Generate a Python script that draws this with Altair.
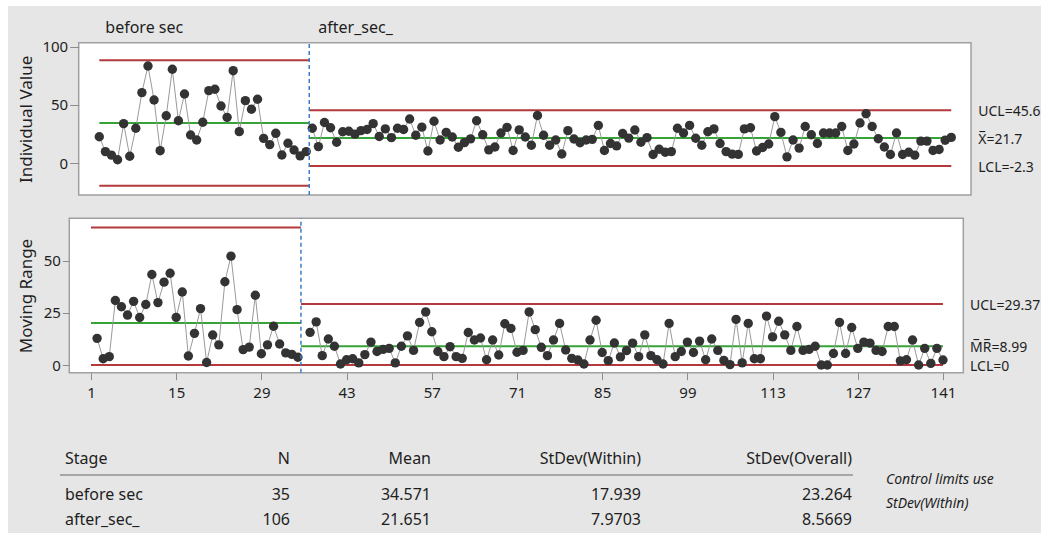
import altair as alt
import pandas as pd

# ---- data -------------------------------------------------------------
stages = ["before sec", "after_sec_"]

# individual observations in run order, one list per stage
before_sec = [22.8, 10, 7, 3, 34, 6, 30, 60.6, 83.4, 54.3,
              10.8, 40.8, 80.6, 36.5, 59.4, 24.3, 20, 35.2, 62.3, 63.5,
              49.1, 39.4, 79.4, 27.1, 53.7, 46.3, 54.9, 21.4, 16, 25.7,
              7.1, 17.2, 11.4, 6.3, 10]
after_sec = [30, 14.3, 35, 30.5, 18, 27, 27.5, 25, 28, 29,
             34, 23, 29.5, 22, 30, 29, 38, 24, 31, 10.5,
             36, 20, 26.5, 22.5, 13.7, 17.7, 20.9, 36.5, 24.5, 11.5,
             14, 26, 30.8, 11, 28.6, 22.5, 15.5, 41, 24, 15.5,
             20, 8, 28, 20.8, 17.6, 20, 20.5, 32.5, 11, 17,
             14.9, 25.5, 21.6, 28.5, 18, 22, 7.5, 12, 9.5, 10,
             30, 26, 32.5, 21.5, 15.5, 27, 29.5, 17, 10, 7.8,
             7.6, 29.5, 30.5, 10.5, 13.5, 16.5, 40, 26.5, 5.5, 20,
             13, 31.5, 24.5, 17, 26, 26, 26, 31.5, 11, 16.5,
             34.5, 42.5, 31.5, 21, 14, 7.5, 26, 7.5, 9.5, 7,
             19, 19, 11, 11.8, 19.8, 22.2]

# stage summary statistics
stage_n = [35, 106]
stage_mean = [34.571, 21.651]
stage_sd_within = [17.939, 7.9703]
stage_sd_overall = [23.264, 8.5669]

ticks_x = [1, 15, 29, 43, 57, 71, 85, 99, 113, 127, 141]
ticks_i = [0, 50, 100]
ticks_mr = [0, 25, 50]

table_headers = ["Stage", "N", "Mean", "StDev(Within)", "StDev(Overall)"]
note_lines = ["Control limits use", "StDev(Within)"]

# control chart constants for moving ranges of span 2
D2 = 1.128
D4 = 3.267

# ---- canvas geometry ---------------------------------------------------
W, H = 1041, 533
I_BOX = dict(left=78.7, right=971.0, top=42.7, bottom=195.0)
MR_BOX = dict(left=69.3, right=963.3, top=218.3, bottom=372.7)
I_XDOM = [-2.385, 144.24]
I_YDOM = [-27.2, 103.4]
MR_XDOM = [-2.566, 144.34]
MR_YDOM = [-3.7, 70.5]

FONT = "Noto Sans"
INK = "#1e1e1e"
FRAME = "#a0a0a0"
TICK = "#8c8c8c"
RED = "#b3393c"
GREEN = "#36a336"
BLUE = "#3a7ccc"
DOT = "#333333"
LINK = "#9a9a9a"
BG = "#e6e6e6"

# ---- tables ------------------------------------------------------------
values = before_sec + after_sec
obs = pd.DataFrame({
    "idx": list(range(1, len(values) + 1)),
    "value": values,
    "stage": [stages[0]] * len(before_sec) + [stages[1]] * len(after_sec),
})
obs["mr"] = obs.groupby("stage", sort=False)["value"].diff().abs()
mrs = obs.dropna(subset=["mr"])

split = len(before_sec) + 0.5
last = len(values)
lim = pd.DataFrame({
    "stage": stages,
    "first": [1, len(before_sec) + 1],
    "start": [1, split],
    "end": [split, last],
    "cl": stage_mean,
    "ucl": [m + 3 * s for m, s in zip(stage_mean, stage_sd_within)],
    "lcl": [m - 3 * s for m, s in zip(stage_mean, stage_sd_within)],
    "mr_cl": [D2 * s for s in stage_sd_within],
    "mr_ucl": [D4 * D2 * s for s in stage_sd_within],
    "mr_lcl": [0.0, 0.0],
})
i_lims = lim.melt(id_vars=["start", "end"], value_vars=["ucl", "lcl"], value_name="y")
mr_lims = lim.melt(id_vars=["start", "end"], value_vars=["mr_ucl", "mr_lcl"], value_name="y")

cur = lim.iloc[-1]
i_labels = pd.DataFrame({
    "x": [last] * 3,
    "y": [cur["ucl"], cur["cl"], cur["lcl"]],
    "t": [f"UCL={cur['ucl']:.1f}", f"X\u0305={cur['cl']:.1f}", f"LCL={cur['lcl']:.1f}"],
})
mr_labels = pd.DataFrame({
    "x": [last] * 3,
    "y": [cur["mr_ucl"], cur["mr_cl"], cur["mr_lcl"]],
    "t": [f"UCL={cur['mr_ucl']:.2f}", f"M\u0305R\u0305={cur['mr_cl']:.2f}", f"LCL={cur['mr_lcl']:.0f}"],
})

# ---- scales and axes ---------------------------------------------------
xs_i = alt.Scale(domain=I_XDOM, range=[I_BOX["left"], I_BOX["right"]], nice=False, zero=False)
ys_i = alt.Scale(domain=I_YDOM, range=[I_BOX["bottom"], I_BOX["top"]], nice=False, zero=False)
xs_m = alt.Scale(domain=MR_XDOM, range=[MR_BOX["left"], MR_BOX["right"]], nice=False, zero=False)
ys_m = alt.Scale(domain=MR_YDOM, range=[MR_BOX["bottom"], MR_BOX["top"]], nice=False, zero=False)

axis_style = dict(domain=False, grid=False, tickColor=TICK, tickWidth=1, zindex=2,
                  labelFont=FONT, labelFontSize=15, labelColor=INK, labelFlush=False,
                  labelOverlap=False, titleFont=FONT, titleFontSize=17,
                  titleFontWeight="normal", titleColor=INK)

ax_i_y = alt.Axis(orient="left", offset=-I_BOX["left"], values=ticks_i, title="Individual Value",
                  tickSize=9, labelPadding=2, titlePadding=6, **axis_style)
ax_m_y = alt.Axis(orient="left", offset=-MR_BOX["left"], values=ticks_mr, title="Moving Range",
                  tickSize=7, labelPadding=2, titlePadding=8, **axis_style)
ax_m_x = alt.Axis(orient="bottom", offset=MR_BOX["bottom"] - H, values=ticks_x, title=None,
                  tickSize=7, labelPadding=6, **axis_style)


def panel(df_obs, ycol, df_lims, lims_cl, labels, xs, ys, ax_x, ax_y, xdom, ydom, stage_text):
    def X(f):
        return alt.X(f, scale=xs, axis=ax_x)

    def Y(f):
        return alt.Y(f, scale=ys, axis=ax_y)

    box = pd.DataFrame({"x0": [xdom[0]], "x1": [xdom[1]], "y0": [ydom[0]], "y1": [ydom[1]]})
    frame = alt.Chart(box).mark_rect(fill="white", stroke=FRAME, strokeWidth=1.5).encode(
        x=X("x0:Q"), x2="x1:Q", y=Y("y0:Q"), y2="y1:Q")
    centre = alt.Chart(lim).mark_rule(color=GREEN, strokeWidth=2).encode(
        x=X("start:Q"), x2="end:Q", y=Y(f"{lims_cl}:Q"))
    limits = alt.Chart(df_lims).mark_rule(color=RED, strokeWidth=2).encode(
        x=X("start:Q"), x2="end:Q", y=Y("y:Q"))
    link = alt.Chart(df_obs).mark_line(color=LINK, strokeWidth=1).encode(
        x=X("idx:Q"), y=Y(f"{ycol}:Q"), detail="stage:N", order="idx:Q")
    dots = alt.Chart(df_obs).mark_circle(size=88, color=DOT, opacity=1).encode(
        x=X("idx:Q"), y=Y(f"{ycol}:Q"))
    sp = pd.DataFrame({"s": [split], "y0": [ydom[0]], "y1": [ydom[1]]})
    divider = alt.Chart(sp).mark_rule(color=BLUE, strokeWidth=1.5, strokeDash=[4, 3]).encode(
        x=X("s:Q"), y=Y("y0:Q"), y2="y1:Q")
    right = alt.Chart(labels).mark_text(align="left", baseline="middle", dx=27, dy=2,
                                        font=FONT, fontSize=14, color=INK).encode(
        x=X("x:Q"), y=Y("y:Q"), text="t:N")
    layers = [frame, centre, limits, link, dots, divider, right]
    if stage_text:
        names = alt.Chart(lim).mark_text(align="left", baseline="middle", dx=6,
                                         font=FONT, fontSize=16, color=INK).encode(
            x=X("first:Q"), y=alt.value(28), text="stage:N")
        layers.append(names)
    return alt.layer(*layers)


i_panel = panel(obs, "value", i_lims, "cl", i_labels, xs_i, ys_i, None, ax_i_y,
                I_XDOM, I_YDOM, True)
mr_panel = panel(mrs, "mr", mr_lims, "mr_cl", mr_labels, xs_m, ys_m, ax_m_x, ax_m_y,
                 MR_XDOM, MR_YDOM, False)

# ---- summary table -----------------------------------------------------
col_anchor = [(65, "left"), (290, "right"), (431, "right"), (641, "right"), (852, "right")]
row_y = [459, 495, 520]
fmt = lambda v: f"{v:.5g}"
columns = [
    [table_headers[0]] + stages,
    [table_headers[1]] + [str(n) for n in stage_n],
    [table_headers[2]] + [fmt(v) for v in stage_mean],
    [table_headers[3]] + [fmt(v) for v in stage_sd_within],
    [table_headers[4]] + [fmt(v) for v in stage_sd_overall],
]
table_layers = []
for (xpos, al), cells in zip(col_anchor, columns):
    for ypos, cell in zip(row_y, cells):
        table_layers.append(
            alt.Chart(pd.DataFrame({"t": [cell]})).mark_text(
                align=al, baseline="middle", font=FONT, fontSize=16, color=INK
            ).encode(x=alt.value(xpos), y=alt.value(ypos), text="t:N")
        )
table_layers.append(
    alt.Chart(pd.DataFrame({"t": ["rule"]})).mark_rule(color="#a6a6a6", strokeWidth=2).encode(
        x=alt.value(60), x2=alt.value(853), y=alt.value(475))
)
for ypos, line in zip([480, 504], note_lines):
    table_layers.append(
        alt.Chart(pd.DataFrame({"t": [line]})).mark_text(
            align="left", baseline="middle", font=FONT, fontSize=14, fontStyle="italic", color=INK
        ).encode(x=alt.value(886), y=alt.value(ypos), text="t:N")
    )

backdrop = alt.Chart(pd.DataFrame({"t": ["bg"]})).mark_rect(color=BG).encode(
    x=alt.value(8), x2=alt.value(W), y=alt.value(6), y2=alt.value(H))

chart = (
    alt.layer(backdrop, i_panel, mr_panel, *table_layers)
    .resolve_scale(x="independent", y="independent")
    .properties(width=W, height=H, padding=0, background="white",
                autosize=alt.AutoSizeParams(type="none"))
    .configure_view(stroke=None)
)

chart.save("out.html", embed_options={"renderer": "svg", "actions": False})
